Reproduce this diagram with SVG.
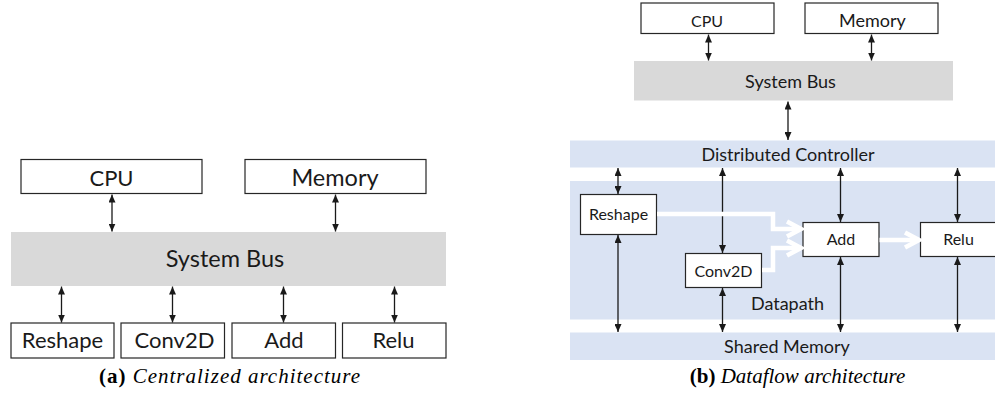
<svg xmlns="http://www.w3.org/2000/svg" width="995" height="398" viewBox="0 0 995 398">
  <style>
    .box { fill: #ffffff; stroke: #262626; stroke-width: 1.2; }
    .bus { fill: #d9d9d9; }
    .band { fill: #dae3f3; }
    .lbl { font-family: Lato, "Open Sans", sans-serif; fill: #1a1a1a; text-anchor: middle; }
    .big { font-size: 22px; }
    .wide { font-size: 23.5px; }
    .small { font-size: 16px; }
    .mid { font-size: 18px; }
    .link { stroke: #1a1a1a; stroke-width: 1.3; fill: none; marker-start: url(#head); marker-end: url(#head); }
    .flow { stroke: #ffffff; stroke-width: 4.5; fill: none; marker-end: url(#chev); }
    .cap { font-family: "Liberation Serif", serif; font-size: 21px; fill: #000; text-anchor: middle; }
  </style>
  <defs>
    <marker id="head" markerUnits="userSpaceOnUse" viewBox="0 0 8 7" refX="8" refY="3.5" markerWidth="8" markerHeight="7" orient="auto-start-reverse">
      <path d="M0,0 L8,3.5 L0,7 z" fill="#1a1a1a"/>
    </marker>
    <marker id="chev" markerUnits="userSpaceOnUse" viewBox="0 0 20 20" refX="17" refY="10" markerWidth="20" markerHeight="20" orient="auto">
      <path d="M3,2.5 L17,10 L3,17.5" fill="none" stroke="#ffffff" stroke-width="4.5"/>
    </marker>
  </defs>

  <!-- (a) centralized architecture -->
  <g id="a-cpu"><rect class="box" x="21" y="159.5" width="181" height="34"/><text class="lbl big" x="111.5" y="185.5">CPU</text></g>
  <g id="a-memory"><rect class="box" x="245" y="159.5" width="181" height="34"/><text class="lbl wide" x="335" y="185.5">Memory</text></g>
  <g id="a-bus"><rect class="bus" x="11" y="232" width="435" height="54"/><text class="lbl wide" x="225" y="267">System Bus</text></g>
  <g id="a-reshape"><rect class="box" x="11" y="323" width="103" height="35"/><text class="lbl big" x="62.5" y="347.5">Reshape</text></g>
  <g id="a-conv2d"><rect class="box" x="121" y="323" width="103.5" height="35"/><text class="lbl big" x="174.5" y="347.5">Conv2D</text></g>
  <g id="a-add"><rect class="box" x="232" y="323" width="103.5" height="35"/><text class="lbl big" x="284" y="347.5">Add</text></g>
  <g id="a-relu"><rect class="box" x="342.5" y="323" width="103.5" height="35"/><text class="lbl big" x="393.5" y="347.5">Relu</text></g>

  <!-- (b) dataflow architecture -->
  <g id="b-controller"><rect class="band" x="570" y="140.5" width="425" height="27"/><text class="lbl mid" x="788" y="160.5">Distributed Controller</text></g>
  <g id="b-datapath"><rect class="band" x="570" y="181" width="425" height="138.5"/><text class="lbl mid" x="787.5" y="309.5">Datapath</text></g>
  <g id="b-shared"><rect class="band" x="570" y="332.5" width="425" height="27.5"/><text class="lbl mid" x="787" y="352.5">Shared Memory</text></g>
  <g id="b-cpu"><rect class="box" x="641" y="3" width="133" height="30.5"/><text class="lbl small" x="707" y="27">CPU</text></g>
  <g id="b-memory"><rect class="box" x="805" y="3" width="133" height="30.5"/><text class="lbl mid" x="872.5" y="27">Memory</text></g>
  <g id="b-bus"><rect class="bus" x="634" y="61" width="319" height="39.5"/><text class="lbl mid" x="790.5" y="88">System Bus</text></g>
  <g id="b-reshape"><rect class="box" x="580.5" y="194.5" width="76" height="40"/><text class="lbl small" x="618.5" y="220">Reshape</text></g>
  <g id="b-conv2d"><rect class="box" x="685.5" y="253.5" width="76" height="34"/><text class="lbl small" x="723.5" y="276.5">Conv2D</text></g>
  <g id="b-add"><rect class="box" x="803" y="222.5" width="76" height="34"/><text class="lbl small" x="841" y="245">Add</text></g>
  <g id="b-relu"><rect class="box" x="920.5" y="222.5" width="80" height="34"/><text class="lbl small" x="958.5" y="245">Relu</text></g>

  <g id="connectors">
    <!-- (a) bus links -->
    <line class="link" x1="112" y1="194.5" x2="112" y2="231.5"/>
    <line class="link" x1="335.5" y1="194.5" x2="335.5" y2="231.5"/>
    <line class="link" x1="61.5" y1="286.5" x2="61.5" y2="322.5"/>
    <line class="link" x1="172.5" y1="286.5" x2="172.5" y2="322.5"/>
    <line class="link" x1="283.5" y1="286.5" x2="283.5" y2="322.5"/>
    <line class="link" x1="394.5" y1="286.5" x2="394.5" y2="322.5"/>
    <!-- (b) bus and controller links -->
    <line class="link" x1="708.5" y1="34.5" x2="708.5" y2="60.5"/>
    <line class="link" x1="871.5" y1="34.5" x2="871.5" y2="60.5"/>
    <line class="link" x1="788" y1="101.5" x2="788" y2="140"/>
    <line class="link" x1="618" y1="168" x2="618" y2="194"/>
    <line class="link" x1="722.5" y1="168" x2="722.5" y2="253"/>
    <line class="link" x1="840.5" y1="168" x2="840.5" y2="222"/>
    <line class="link" x1="957.5" y1="168" x2="957.5" y2="222"/>
    <!-- (b) shared memory links -->
    <line class="link" x1="618" y1="235" x2="618" y2="332"/>
    <line class="link" x1="722.5" y1="288" x2="722.5" y2="332"/>
    <line class="link" x1="840.5" y1="257" x2="840.5" y2="332"/>
    <line class="link" x1="957.5" y1="257" x2="957.5" y2="332"/>
    <!-- (b) dataflow -->
    <path class="flow" d="M657,214 H773 V229 H801"/>
    <path class="flow" d="M762,270 H773 V248 H801"/>
    <path class="flow" d="M879.5,240 H919"/>
  </g>

  <text class="cap" x="230" y="382.5" letter-spacing="1"><tspan font-weight="bold">(a)</tspan><tspan font-style="italic"> Centralized architecture</tspan></text>
  <text class="cap" x="797.5" y="382.5"><tspan font-weight="bold">(b)</tspan><tspan font-style="italic"> Dataflow architecture</tspan></text>
</svg>
